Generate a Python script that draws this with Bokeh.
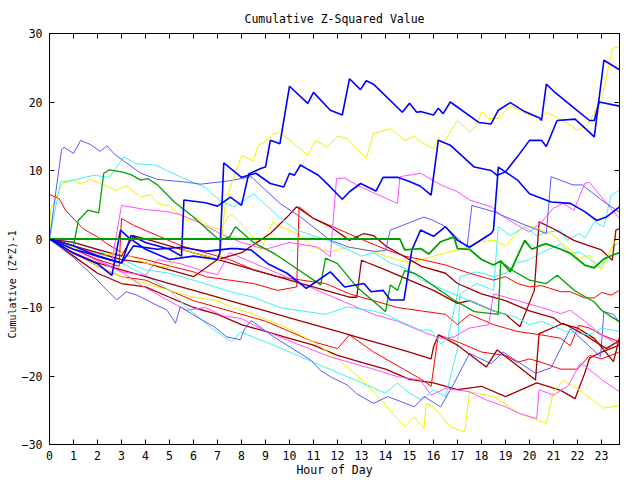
from bokeh.plotting import figure
from bokeh.models import Range1d, LinearAxis, FixedTicker, Title
from bokeh.embed import file_html
from bokeh.resources import INLINE

hour_ticks = list(range(0, 24))
value_ticks = [-30, -20, -10, 0, 10, 20, 30]

# ---- series (hour, cumulative value) ----
blue1_x = [0,1,2,3,3.4,4,5,5.5,5.6,6.5,7.0,7.54,8.0,8.3,8.8,9.0,9.2,9.6,10.0,10.76,11.0,11.7,12.2,12.5,12.96,13.2,13.5,14.7,15.0,15.3,15.46,16.0,16.2,16.4,16.7,17.9,18.4,18.7,19.2,19.8,20.4,20.5,20.7,21.0,21.8,22.5,22.7,22.9,23.75]
blue1_y = [0,-1,-2.5,-3.5,0.5,-0.5,-1.5,-2.5,5.7,5.3,4.8,6.1,4.9,9.5,10.3,10.5,14.4,13.9,22.3,19.8,21.4,18.8,18.1,23.4,21.8,23.1,22.6,18.5,19.8,18.5,18.6,18.1,19.1,18.3,20.0,17.0,16.8,18.8,19.9,18.6,17.7,17.3,22.6,21.6,19.3,17.3,17.3,20.0,19.4]

blue2_x = [0,1,2,2.6,2.96,3.3,4,5,6,7.0,7.1,7.26,7.54,8.0,8.6,9.2,9.76,10.0,10.2,10.46,10.8,11.2,11.7,12.2,12.5,12.96,13.2,13.6,13.9,14.5,15.0,15.46,15.9,16.2,16.7,17.7,18.4,18.65,19.0,19.6,20.0,20.5,20.7,21.15,21.9,22.4,22.7,23.1,23.75]
blue2_y = [0,-2.1,-3.6,-5.3,1.3,0.2,-1.5,-3.0,-2.5,-3.0,-2.0,11.1,10.3,9.0,9.6,8.1,7.6,9.6,9.3,10.8,10.1,9.3,7.6,5.8,6.9,8.1,7.7,7.0,9.0,9.0,8.4,7.7,6.4,14.4,13.7,10.5,10.0,9.3,9.8,12.5,14.4,14.4,13.5,17.3,17.5,15.9,14.9,26.1,24.7]

blue3_x = [0,1,2,3,3.5,4.5,5.5,6.5,7.54,7.8,8.4,9.1,9.9,10.7,11.0,11.7,12.3,13.1,13.4,13.9,14.2,14.77,15.1,15.46,16.0,16.5,17.0,17.5,18.4,18.5,18.7,19.5,20.0,20.9,21.7,22.3,22.8,23.2,23.75]
blue3_y = [0,-1.5,-2.5,-3.5,-1.0,-1.5,-1.2,-1.8,-1.4,-1.4,-1.6,-3.6,-5.0,-7.2,-6.5,-4.8,-7.0,-6.5,-7.7,-7.5,-8.9,-8.9,-1.6,1.3,0.4,1.8,-0.2,-1.2,0.8,1.3,10.5,8.6,6.6,5.4,5.2,4.0,2.7,3.2,4.7]

slate1_x = [0,0.5,0.6,1.0,1.3,1.7,2.1,2.4,2.7,3.8,4.5,5.7,6.3,7.5,8.4,9.6,10.46,11.7,12.5,13.5,14.0,14.2,15.6,16.0,16.5,17.4,17.6,18.5,19.5,20.2,20.7,20.9,21.8,22.2,23.0,23.75]
slate1_y = [0,13.0,13.4,12.5,14.4,13.8,12.8,13.6,12.4,9.6,8.7,8.3,8.0,8.5,9.1,5.2,3.2,-0.2,-1.2,-1.8,-1.7,1.3,3.2,2.7,1.8,-1.2,4.9,4.0,2.5,1.5,0.8,9.1,7.9,7.9,5.7,3.9]

slate2_x = [0,1.0,1.85,2.4,2.8,3.2,3.65,4.2,4.9,5.25,5.45,6.15,6.85,7.4,7.96,8.1,8.4,9.35,9.9,10.9,11.3,11.7,12.4,12.8,13.5,14.1,15.2,15.6,16.3,16.85,17.5,18.4,18.9,20.25,20.9,21.7,22.96,23.1,23.5,23.75]
slate2_y = [0,-2.7,-5.5,-7.5,-8.9,-7.7,-8.2,-9.2,-10.4,-12.3,-9.9,-11.4,-12.8,-14.3,-14.7,-13.3,-11.9,-14.3,-15.5,-17.7,-19.2,-20.1,-21.3,-22.6,-24.0,-23.0,-24.5,-23.0,-24.5,-21.1,-16.7,-18.2,-16.5,-19.6,-18.8,-13.1,-17.2,-10.6,-11.0,-12.2]

cyan1_x = [0,0.46,1.0,1.85,2.5,3.1,3.6,4.4,5.5,6.5,7.1,7.7,8.5,9.6,10.3,11.6,12.4,13.0,13.5,14.2,15.0,15.5,16.5,17.5,18.5,19.5,20.0,20.5,21.5,22.5,23.0,23.75]
cyan1_y = [0,8.3,8.6,9.3,9.0,12.0,11.0,10.8,9.0,7.5,5.6,4.7,6.6,3.1,1.3,-0.2,-1.5,-2.5,-2.0,-3.5,-4.5,-6.0,-7.5,-9.0,-10.5,-11.5,-12.5,-12.0,-13.5,-14.0,-13.0,-13.5]

cyan2_x = [0,1,2.0,3,4.1,5,5.7,6.85,7.6,7.96,9.0,10.0,11.0,12.0,13.0,14.0,14.5,15.0,15.5,16.0,16.5,17.0,17.1,17.8,18.5,18.7,19.2,19.8,20.3,20.8,21.3,21.55,22.1,22.3,22.7,23.1,23.4,23.75]
cyan2_y = [0,-0.5,-1.6,-3.5,-5.5,-7.5,-9.9,-13.3,-15.0,-13.6,-15.0,-16.5,-18.0,-19.5,-21.0,-22.5,-21.0,-22.5,-23.5,-22.0,-23.0,-16.0,-8.0,-6.5,-7.5,1.8,0.5,1.8,0.5,1.0,1.3,-0.2,0.8,0.1,2.5,1.8,6.4,7.1]

cyan3_x = [0,1,2,3,4,5,6,7.54,8.5,9.6,10.5,11.5,12.4,13.5,14.0,14.8,15.46,15.9,16.3,16.6,17.0,17.1,17.8,18.5,19.0,19.5,20.0,20.5,21.3,21.7,22.1,22.96,23.5,23.75]
cyan3_y = [0,-1,-2.2,-3.0,-4.5,-5.0,-6.0,-7.7,-8.5,-10.0,-10.5,-11.0,-9.9,-10.5,-11.0,-12.3,-13.3,-13.3,-15.3,-14.5,-8.0,-5.5,-4.8,-5.5,-5.0,-3.5,-3.0,-2.0,-0.7,-2.1,-1.9,-4.2,-1.0,-0.5]

magenta1_x = [0,1,2,2.6,3.0,4.0,4.9,5.5,6.3,7.1,8.0,9.0,10.0,11.2,11.7,11.96,12.3,12.8,13.4,14.5,14.6,15.3,15.46,16.3,17.0,17.5,18.4,18.8,19.5,20.0,20.5,21.0,21.4,21.85,22.3,22.5,23.1,23.75]
magenta1_y = [0,-1,-2.3,-3.2,4.9,4.3,4.0,3.5,2.3,0.8,-0.5,-1.5,-0.5,-1.2,-2.6,8.8,8.9,7.9,6.9,5.2,9.1,9.5,9.6,7.9,6.9,5.7,4.7,3.5,2.0,1.0,2.5,4.5,5.2,4.2,8.1,8.3,5.7,3.0]

magenta2_x = [0,1,2,3.0,3.8,4.7,5.7,6.5,7.2,8.0,8.9,10.3,11.7,12.5,13.5,14.5,15.46,15.9,16.5,17.5,18.2,19.0,19.6,20.3,20.4,21.0,21.3,21.6,22.1,22.3,23.0,23.75]
magenta2_y = [0,-1.5,-3.0,-4.8,-6.7,-8.5,-10.4,-10.0,-11.2,-11.6,-13.3,-15.3,-17.2,-18.0,-19.0,-20.1,-20.6,-22.8,-21.8,-22.3,-23.5,-24.5,-25.5,-26.2,-22.0,-22.8,-22.1,-21.5,-18.2,-18.5,-20.5,-22.3]

magenta3_x = [0,1,2,3,4,4.5,5.45,6.5,7.0,7.5,8.5,9.5,10.5,11.5,12.5,13.5,14.5,15.5,16.3,16.85,17.5,18.3,18.5,19.0,19.5,20.0,20.5,21.3,21.7,22.3,23.0,23.75]
magenta3_y = [0,-1.5,-3.2,-4.8,-5.3,-3.0,-3.6,-4.8,-5.2,-2.0,-3.5,-5.0,-6.5,-8.0,-9.5,-11.0,-12.0,-13.5,-14.5,-14.3,-13.0,-12.5,-8.0,-8.5,-9.0,-9.5,-10.0,-10.9,-10.4,-12.0,-14.0,-15.5]

yellow1_x = [0,1,2,3,4,5,5.5,6.5,7.1,7.3,7.54,8.0,8.5,8.7,9.0,9.35,9.6,10.1,10.76,11.1,11.57,12.0,12.4,13.2,13.5,14.2,14.8,15.2,15.46,16.0,16.2,16.4,17.0,17.5,17.8,18.0,18.3,18.7,19.2,20.0,20.5,20.7,21.15,22.0,22.4,23.0,23.45,23.75]
yellow1_y = [0,-1.2,-2.5,-2.0,-3.5,-4.2,-1.5,-2.5,-3.0,4.5,7.6,12.2,11.4,13.7,14.2,15.4,15.5,14.2,12.2,14.4,13.4,15.0,14.7,11.75,15.4,16.1,14.4,15.0,14.2,13.2,14.8,14.0,17.3,15.6,16.6,18.6,17.6,17.6,19.4,18.1,17.7,18.5,17.8,15.9,16.6,20.3,27.8,28.1]

yellow2_x = [0,0.04,0.53,1.0,1.3,1.7,2.2,2.75,3.2,3.8,4.2,4.5,5.0,5.7,6.2,6.6,7.1,7.54,8.1,8.6,8.8,9.3,9.6,10.3,11.0,11.7,12.4,13.4,14.0,15.0,16.0,17.2,18.0,18.5,19.0,19.6,19.9,20.3,20.9,21.5,22.05,22.5,23.0,23.5,23.75]
yellow2_y = [0,4.2,8.1,8.6,8.0,8.7,8.0,7.1,7.8,6.1,6.5,5.2,4.8,2.7,3.0,2.0,1.3,3.7,1.8,-0.2,-1.7,2.5,1.8,0.8,-1.2,-1.9,-1.2,-1.7,-2.5,-3.5,-2.5,-1.4,-0.4,-0.2,-1.0,1.3,2.0,1.6,0.8,-1.0,-2.8,-2.4,-4.6,-0.7,0.5]

yellow3_x = [0,1,2,3,4,5,6,7,7.54,8.5,9.76,11,12,13,13.5,14.0,14.8,15.2,15.6,15.7,16.0,16.7,17.3,17.5,18.5,19.6,20.7,21.0,21.4,22.1,23.1,23.75]
yellow3_y = [0,-2,-4,-5.5,-6.5,-7.5,-8.5,-9.0,-9.9,-11.0,-12.8,-15.0,-17.5,-20.5,-22.3,-24.3,-27.4,-26.0,-27.7,-24.0,-24.5,-27.4,-28.2,-22.3,-23.0,-25.5,-26.9,-22.3,-20.6,-22.1,-24.7,-24.3]

green1_x = [0,14.6,14.8,15.46,15.8,16.3,16.85,17.0,17.5,18.0,18.5,18.8,19.2,19.8,20.1,20.5,20.7,21.3,21.7,22.3,22.7,23.1,23.5,23.75]
green1_y = [0,0,-1.6,-1.4,-2.2,-0.4,0.3,-1.4,-1.5,-3.0,-3.8,-3.2,-4.8,-0.2,-1.5,-0.9,-0.7,-1.5,-2.1,-3.8,-4.2,-2.9,-2.3,-2.0]

green2_x = [0,0.5,1.0,1.2,1.6,2.05,2.26,2.5,3.0,3.4,3.8,4.1,4.5,5.2,6.0,6.6,7.1,7.5,7.75,8.5,9.35,10.2,11.3,11.5,12.0,12.8,14.0,14.2,14.5,14.8,15.2,15.46,16.85,17.7,18.7,18.8,19.3,20.0,20.7,21.15,21.9,22.7,23.0,23.75]
green2_y = [0,-0.5,-1.0,2.7,4.2,3.8,9.6,10.1,9.8,9.4,8.6,8.8,7.9,5.4,3.2,1.3,-0.2,0.3,1.8,-0.5,-2.1,-4.1,-6.7,-2.8,-3.6,-7.0,-10.6,-6.7,-7.5,-4.6,-5.0,-5.5,-8.9,-10.6,-11.0,-3.3,-4.6,-6.0,-6.5,-5.3,-7.6,-9.2,-10.4,-12.1]

red1_x = [0,0.4,0.67,1.4,2.0,2.4,3.2,4.0,5.2,6.0,6.5,7.5,8.5,9.5,10.3,10.4,11.0,12.0,13.1,14.0,14.8,15.5,16.5,17.5,18.5,19.0,19.5,20.0,20.5,21.3,21.7,22.3,22.7,23.0,23.4,23.75]
red1_y = [6.5,5.9,4.2,1.5,0.3,-0.7,-2.4,-3.0,-4.1,-4.8,-5.5,-6.0,-6.5,-7.5,-7.0,4.7,3.0,1.5,-0.2,-1.5,-2.5,-3.0,-3.8,-5.0,-6.0,-5.5,-6.5,-7.0,-6.8,-7.7,-7.7,-8.6,-8.6,-7.8,-8.2,-7.5]

red2_x = [0,1,2,2.9,3.0,3.5,4.5,5.5,6.5,7.5,8.5,9.5,10.5,11.5,12.5,13.5,14.5,15.5,16.5,17.0,17.5,18.5,19.5,20.5,21.3,21.7,22.05,22.5,23.0,23.75]
red2_y = [0,-1.5,-3.0,-4.0,3.0,2.0,0.5,-1.0,-2.0,-3.0,-4.5,-5.5,-6.0,-6.5,-8.0,-9.0,-10.0,-10.5,-11.0,-12.5,-11.0,-12.5,-13.5,-14.0,-14.5,-15.6,-12.6,-13.0,-14.0,-15.0]

red3_x = [0,1,2,3,4,5,6,7,8,9,10,11,12,12.5,13.5,14.5,15.5,15.9,16.2,17.0,18.0,19.0,19.5,20.0,20.5,21.3,22.0,22.5,23.0,23.75]
red3_y = [0,-2.0,-4.0,-5.5,-6.0,-7.5,-9.0,-10.0,-11.0,-12.0,-13.5,-15.0,-16.0,-14.0,-16.5,-18.5,-20.5,-21.5,-14.0,-15.0,-16.5,-17.0,-18.0,-17.5,-18.0,-19.0,-19.0,-17.0,-17.5,-16.5]

darkred1_x = [0,1,2,3,4,5,6,7,8,9,10,11,12,13,14,15,16,17,18,19,20.3,21.3,21.9,22.3,22.5,23.0,23.75]
darkred1_y = [0,-2.5,-5.0,-6.5,-7.0,-8.5,-10.0,-11.0,-12.5,-13.5,-14.5,-15.5,-17.0,-18.0,-19.0,-20.5,-21.0,-22.0,-21.5,-23.0,-21.0,-22.1,-23.3,-19.6,-17.4,-16.5,-15.5]

darkred2_x = [0,1,2,3,4,5,6,7,8,9.2,9.9,10.3,11.0,11.7,12.5,13.1,13.5,14.0,14.5,15.5,16.5,17.0,18.0,19.0,20.0,21.0,21.3,22.0,22.7,23.5,23.75]
darkred2_y = [0,-1.0,-2.0,-3.0,-3.5,-4.5,-5.5,-3.0,-2.0,0.8,3.2,4.7,3.0,1.8,-0.2,0.8,0.5,-1.0,-2.0,-4.0,-5.0,-6.5,-8.0,-9.0,-10.5,-11.5,-12.3,-13.0,-14.5,-17.9,-14.4]

darkred3_x = [0,1,2,3,3.5,4.5,5.5,6.5,7.5,8.5,9.5,10.5,11.5,12.5,12.8,13.0,14.0,15.0,16.0,17.0,17.5,18.5,19.0,19.6,20.2,20.4,21.0,21.85,22.5,23.0,23.45,23.6,23.75]
darkred3_y = [0,-0.5,-1.5,-2.5,0.5,-0.5,-1.5,-2.5,-3.5,-4.5,-5.5,-6.5,-7.5,-8.5,-8.5,-3.1,-4.5,-6.0,-7.5,-9.4,-9.0,-10.5,-11.0,-12.8,-7.5,2.5,1.5,-0.2,-1.0,-1.6,-3.1,1.3,1.5]

darkred4_x = [0,1,2,3,4,5,6,7,8,9,10,11,12,13,14,15,15.9,16.0,16.2,17.0,18.2,18.65,19.5,20.25,20.4,21.4,22.3,23.2,23.75]
darkred4_y = [0,-2,-3.5,-4.5,-5.5,-6.5,-7.5,-8.5,-9.5,-10.5,-11.5,-12.5,-13.5,-14.5,-15.5,-16.5,-17.5,-15.8,-14.0,-15.5,-18.7,-16.2,-18.5,-20.6,-13.8,-12.3,-14.0,-16.0,-14.8]

RED, DARKRED, GREEN, BLUE = "#ff0000", "#a00000", "#00a000", "#0000ff"
SLATE, CYAN, MAGENTA, YELLOW = "#5a5aff", "#40f0f0", "#ff50ff", "#f0f000"

series = [
    (darkred1_x, darkred1_y, DARKRED, 1.3),
    (red3_x, red3_y, RED, 1.0),
    (yellow3_x, yellow3_y, YELLOW, 1.0),
    (magenta2_x, magenta2_y, MAGENTA, 1.0),
    (cyan2_x, cyan2_y, CYAN, 1.0),
    (slate2_x, slate2_y, SLATE, 1.0),
    (darkred4_x, darkred4_y, DARKRED, 1.3),
    (red2_x, red2_y, RED, 1.0),
    (magenta3_x, magenta3_y, MAGENTA, 1.0),
    (cyan3_x, cyan3_y, CYAN, 1.0),
    (darkred3_x, darkred3_y, DARKRED, 1.3),
    (yellow2_x, yellow2_y, YELLOW, 1.0),
    (red1_x, red1_y, RED, 1.0),
    (darkred2_x, darkred2_y, DARKRED, 1.3),
    (cyan1_x, cyan1_y, CYAN, 1.0),
    (magenta1_x, magenta1_y, MAGENTA, 1.0),
    (green2_x, green2_y, GREEN, 1.3),
    (slate1_x, slate1_y, SLATE, 1.0),
    (yellow1_x, yellow1_y, YELLOW, 1.0),
    (blue3_x, blue3_y, BLUE, 1.6),
    (blue2_x, blue2_y, BLUE, 1.6),
    (blue1_x, blue1_y, BLUE, 1.6),
    (green1_x, green1_y, GREEN, 1.8),
]

FONT = "DejaVu Sans Mono"

p = figure(width=640, height=480, output_backend="svg", toolbar_location=None,
           x_range=Range1d(0, 23.75), y_range=Range1d(-30, 30),
           min_border_left=49, min_border_right=21, min_border_top=33, min_border_bottom=36)
p.grid.visible = False
p.outline_line_color = "black"
p.outline_line_width = 1
p.background_fill_color = "white"
p.border_fill_color = "white"

p.title.text = "Cumulative Z-Squared Value"
p.title.align = "center"
p.title.text_font = FONT
p.title.text_font_size = "11.5px"
p.title.text_font_style = "normal"
p.title.text_color = "black"
p.title.standoff = 16

for xs, ys, col, w in series:
    p.line(xs, ys, line_color=col, line_width=w)

def style_axis(ax, ticks, show_labels):
    ax.ticker = FixedTicker(ticks=ticks)
    ax.major_tick_in = 5
    ax.major_tick_out = 0
    ax.minor_tick_line_color = None
    ax.axis_line_color = "black"
    ax.major_tick_line_color = "black"
    ax.major_label_text_font = FONT
    ax.major_label_text_font_size = "11.5px"
    ax.major_label_text_color = "black"
    if not show_labels:
        ax.major_label_overrides = {t: "" for t in ticks}
        ax.major_label_text_font_size = "1px"
        ax.major_label_standoff = 0

xa = p.xaxis[0]
ya = p.yaxis[0]
style_axis(xa, hour_ticks, True)
style_axis(ya, value_ticks, True)
xa.major_label_standoff = 6
ya.major_label_standoff = 7
xa.axis_label = "Hour of Day"
xa.axis_label_text_font = FONT
xa.axis_label_text_font_size = "11.5px"
xa.axis_label_text_font_style = "normal"
xa.axis_label_text_color = "black"
xa.axis_label_standoff = 0

top_axis = LinearAxis()
style_axis(top_axis, hour_ticks, False)
p.add_layout(top_axis, "above")
right_axis = LinearAxis()
style_axis(right_axis, value_ticks, False)
p.add_layout(right_axis, "right")

ylab = Title(text="Cumulative (Z*Z)-1", align="left", offset=106, text_font=FONT,
             text_font_size="10px", text_font_style="normal", text_color="black", standoff=2)
p.add_layout(ylab, "left")

open("out.html", "w").write(file_html(p, INLINE))
